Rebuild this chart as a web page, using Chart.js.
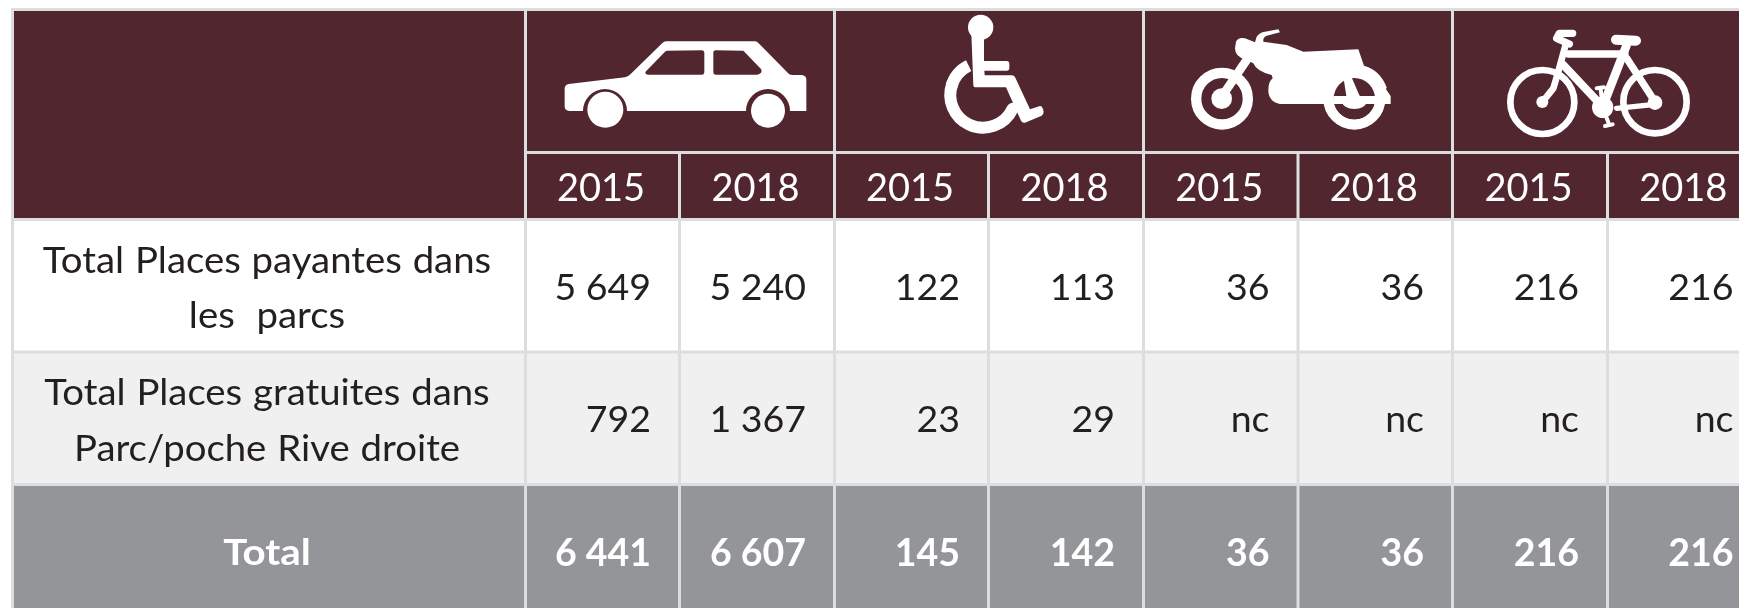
<!DOCTYPE html>
<html lang="fr">
<head>
<meta charset="utf-8">
<title>Places de stationnement 2015 / 2018</title>
<script src="https://cdn.jsdelivr.net/npm/chart.js@4/dist/chart.umd.min.js"></script>
<style>
  html, body { margin: 0; padding: 0; background: #fff; overflow: hidden; }
  canvas { display: block; }
</style>
</head>
<body>
<canvas id="myChart" width="1739" height="608"></canvas>
<script>
// table content
const vehicles = ['Voiture', 'PMR', 'Moto', 'Vélo'];
const years = ['2015', '2018'];
const rowLabels = [
  ['Total Places payantes dans', 'les  parcs'],
  ['Total Places gratuites dans', 'Parc/poche Rive droite'],
  ['Total']
];
const payantes = [5649, 5240, 122, 113, 36, 36, 216, 216];
const gratuites = [792, 1367, 23, 29, null, null, null, null]; // null = nc
const totals = [6441, 6607, 145, 142, 36, 36, 216, 216];

// layout of the grid, in scale units
const colEdges = [12.5, 525.5, 679.5, 834.5, 988.5, 1143.5, 1298, 1452.5, 1607.5, 1762];
const rowEdges = [9.5, 152.5, 219.5, 352, 484.5, 640];
const labelBaselines = [[272.7, 328.3], [405, 460.7], [565]];
const valueBaselines = [299.7, 432, 565.5];
const rowFills = ['#ffffff', '#f0f0f0', '#939598'];
const HEADER = '#52262f';
const GRID = '#dcddde';
const FONT = 'Lato, sans-serif';

function formatValue(v) {
  if (v === null) return 'nc';
  return String(v).replace(/\B(?=(\d{3})+$)/g, ' ');
}

function cell(col1, col2, row1, row2) {
  return { x: (colEdges[col1] + colEdges[col2]) / 2, y: [rowEdges[row1], rowEdges[row2]] };
}

// first column
const labelCells = [cell(0, 1, 0, 2)];
const labelColors = [HEADER];
rowLabels.forEach(function (label, i) {
  labelCells.push(cell(0, 1, i + 2, i + 3));
  labelColors.push(rowFills[i]);
});

// icon row
const iconCells = vehicles.map(function (v, i) {
  return cell(1 + i * 2, 3 + i * 2, 0, 1);
});

// years + values
const valueCells = [];
const valueColors = [];
for (let c = 0; c < payantes.length; c++) {
  valueCells.push(cell(c + 1, c + 2, 1, 2));
  valueColors.push(HEADER);
  rowLabels.forEach(function (label, i) {
    valueCells.push(cell(c + 1, c + 2, i + 2, i + 3));
    valueColors.push(rowFills[i]);
  });
}

function stretched(ctx, text, x, y, ratio) {
  ctx.save();
  ctx.translate(x, y);
  ctx.scale(ratio, 1);
  ctx.fillText(text, 0, 0);
  ctx.restore();
}

function disc(ctx, x, y, r) {
  ctx.beginPath();
  ctx.arc(x, y, r, 0, Math.PI * 2);
  ctx.fill();
}

function ring(ctx, x, y, r) {
  ctx.beginPath();
  ctx.arc(x, y, r, 0, Math.PI * 2);
  ctx.stroke();
}

function drawCar(ctx) {
  const body = new Path2D('M194 264 Q196 254 206 252 L375 232 Q385 230 392 222 L488 128 Q494 124 500 124 L765 124 Q771 124 776 130 L866 221 Q870 225 880 225 L905 225 Q918 226 919 238 L919 333 L870 333 A66 66 0 0 0 738 333 L381 333 A66 66 0 0 0 249 333 L208 333 Q195 331 194 320 Z ' +
    'M500 152 L605 151 Q613 151 613 160 L613 215 Q613 224 605 224 L443 224 Q432 222 438 214 L495 155 Z ' +
    'M640 158 Q640 151 648 151 L730 152 L783 207 Q790 220 772 224 L648 224 Q640 224 640 216 Z');
  ctx.fill(body, 'evenodd');
  disc(ctx, 316, 329, 54);
  disc(ctx, 804, 332, 51);
}

function drawWheelchair(ctx) {
  disc(ctx, 452, 82, 38);
  ctx.fill(new Path2D('M424 100 L462 100 L462 183 L530 183 Q538 183 538 192 L538 203 Q538 212 530 212 L463 212 L464 226 L545 226 Q553 226 556 233 L600 328 L630 318 Q638 318 641 335 Q640 345 635 347 L585 368 Q577 370 573 362 L528 262 L438 262 Q430 262 430 255 Z'));
  ctx.lineWidth = 36;
  ctx.lineCap = 'round';
  ctx.beginPath();
  ctx.arc(459, 285, 98, 25 * Math.PI / 180, 200 * Math.PI / 180);
  ctx.stroke();
  ctx.lineCap = 'butt';
  ctx.beginPath();
  ctx.arc(459, 285, 98, 195 * Math.PI / 180, 244 * Math.PI / 180);
  ctx.stroke();
}

function drawMoto(ctx) {
  ctx.lineWidth = 31;
  ring(ctx, 246, 296, 77.5);
  ring(ctx, 643, 296, 77.5);
  disc(ctx, 245, 296, 31);
  ctx.lineWidth = 26;
  ctx.beginPath();
  ctx.moveTo(252, 280);
  ctx.lineTo(330, 165);
  ctx.stroke();
  ctx.fill(new Path2D('M288 125 Q295 110 315 115 L345 127 L350 110 Q360 97 375 95 L415 88 L420 97 L380 107 Q368 112 370 125 L440 135 L490 155 L655 148 L672 197 Q720 210 740 262 L738 268 L752 288 L752 312 L643 312 L420 312 Q385 305 385 270 Q385 245 398 235 L395 225 Q350 215 340 190 L315 178 Q285 170 285 145 Z'));
  // rear wheel opening
  ctx.fillStyle = HEADER;
  disc(ctx, 643, 296, 62);
  ctx.fillStyle = '#ffffff';
  ctx.fillRect(580, 288, 125, 24);
  ctx.fill(new Path2D('M610 230 L634 230 L662 295 L620 295 Z'));
  ctx.beginPath();
  ctx.ellipse(643, 306, 36, 21, 0, 0, Math.PI * 2);
  ctx.fill();
}

function strokeLine(ctx, points, width) {
  ctx.lineWidth = width;
  ctx.beginPath();
  points.forEach(function (p, i) {
    if (i === 0) ctx.moveTo(p[0], p[1]);
    else ctx.lineTo(p[0], p[1]);
  });
  ctx.stroke();
}

function drawBike(ctx) {
  ctx.lineCap = 'round';
  ctx.lineJoin = 'round';
  ctx.lineWidth = 20;
  ring(ctx, 307, 306, 96);
  ring(ctx, 645, 305, 95);
  strokeLine(ctx, [[385, 162], [555, 162]], 22);
  strokeLine(ctx, [[378, 130], [355, 215], [340, 265], [307, 306]], 20);
  strokeLine(ctx, [[398, 100], [358, 100], [350, 115], [388, 132]], 22);
  strokeLine(ctx, [[370, 195], [488, 320]], 24);
  strokeLine(ctx, [[560, 135], [488, 320]], 26);
  strokeLine(ctx, [[528, 119], [588, 122]], 30);
  strokeLine(ctx, [[560, 175], [645, 305]], 22);
  strokeLine(ctx, [[530, 325], [645, 313]], 16);
  disc(ctx, 307, 306, 18);
  disc(ctx, 645, 308, 22);
  disc(ctx, 488, 322, 32);
  strokeLine(ctx, [[488, 322], [482, 268]], 12);
  strokeLine(ctx, [[470, 265], [492, 262]], 12);
  strokeLine(ctx, [[488, 322], [508, 375]], 12);
  strokeLine(ctx, [[495, 378], [518, 373]], 12);
  ctx.lineCap = 'butt';
}

const icons = [
  { draw: drawCar, x: 500 },
  { draw: drawWheelchair, x: 830 },
  { draw: drawMoto, x: 1140 },
  { draw: drawBike, x: 1440 }
];

const tablePlugin = {
  id: 'tablePlugin',
  afterDatasetsDraw: function (chart) {
    const ctx = chart.ctx;
    const xs = chart.scales.x;
    const ys = chart.scales.y;
    const px = function (v) { return xs.getPixelForValue(v); };
    const py = function (v) { return ys.getPixelForValue(v); };

    // grid lines
    ctx.save();
    ctx.fillStyle = GRID;
    const vLine = function (x, top) {
      ctx.fillRect(px(x) - 1.5, py(top) - 1.5, 3, py(rowEdges[5]) - py(top) + 1.5);
    };
    const hLine = function (y, from) {
      ctx.fillRect(px(from) - 1.5, py(y) - 1.5, px(colEdges[9]) - px(from) + 1.5, 3);
    };
    colEdges.forEach(function (edge, i) {
      vLine(edge, i % 2 === 1 || i === 0 ? rowEdges[0] : rowEdges[1]);
    });
    hLine(rowEdges[0], colEdges[0]);
    hLine(rowEdges[1], colEdges[1]);
    hLine(rowEdges[2], colEdges[0]);
    hLine(rowEdges[3], colEdges[0]);
    hLine(rowEdges[4], colEdges[0]);
    ctx.restore();

    // icons
    icons.forEach(function (icon) {
      ctx.save();
      ctx.translate(px(icon.x), py(0));
      ctx.scale(1 / 3, 1 / 3);
      ctx.fillStyle = '#ffffff';
      ctx.strokeStyle = '#ffffff';
      icon.draw(ctx);
      ctx.restore();
    });

    // texts
    ctx.save();
    ctx.textBaseline = 'alphabetic';

    // years
    ctx.font = '38px ' + FONT;
    ctx.fillStyle = '#ffffff';
    ctx.textAlign = 'center';
    for (let c = 0; c < payantes.length; c++) {
      ctx.fillText(years[c % 2], px((colEdges[c + 1] + colEdges[c + 2]) / 2) - 1.5, py(201));
    }

    // row labels
    const labelX = px((colEdges[0] + colEdges[1]) / 2) - 2;
    ctx.wordSpacing = '1px';
    rowLabels.forEach(function (lines, r) {
      const bold = r === 2;
      ctx.font = (bold ? 'bold ' : '') + '36px ' + FONT;
      ctx.fillStyle = bold ? '#ffffff' : '#231f20';
      lines.forEach(function (line, i) {
        stretched(ctx, line, labelX, py(labelBaselines[r][i]), bold ? 1.12 : 1.065);
      });
    });
    ctx.wordSpacing = '0px';

    // values
    ctx.textAlign = 'right';
    [payantes, gratuites, totals].forEach(function (values, r) {
      const bold = r === 2;
      ctx.font = (bold ? 'bold ' : '') + '37.5px ' + FONT;
      ctx.fillStyle = bold ? '#ffffff' : '#231f20';
      values.forEach(function (v, c) {
        ctx.fillText(formatValue(v), px(colEdges[c + 2]) - 28.5, py(valueBaselines[r]));
      });
    });
    ctx.restore();
  }
};

var ctx = document.getElementById('myChart').getContext('2d');
var chart = new Chart(ctx, {
  type: 'bar',
  data: {
    datasets: [
      { label: 'Lignes', data: labelCells, backgroundColor: labelColors, barThickness: colEdges[1] - colEdges[0] },
      { label: 'Véhicules', data: iconCells, backgroundColor: HEADER, barThickness: colEdges[3] - colEdges[1] },
      { label: 'Valeurs', data: valueCells, backgroundColor: valueColors, barThickness: colEdges[2] - colEdges[1] }
    ]
  },
  options: {
    responsive: false,
    animation: false,
    grouped: false,
    layout: { padding: 0 },
    plugins: { legend: { display: false }, tooltip: { enabled: false } },
    scales: {
      x: { type: 'linear', min: 0, max: 1739, offset: false, display: false },
      y: { type: 'linear', min: 0, max: 608, reverse: true, display: false }
    }
  },
  plugins: [tablePlugin]
});
</script>
</body>
</html>
